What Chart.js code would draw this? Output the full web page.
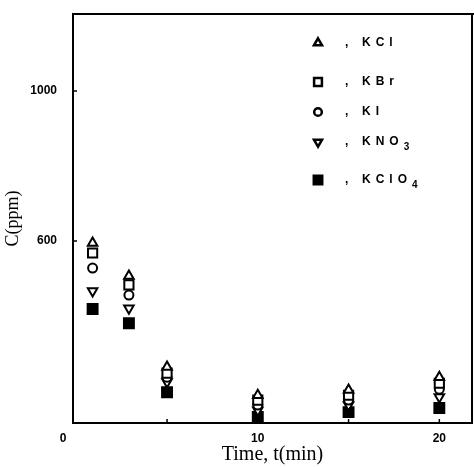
<!DOCTYPE html>
<html>
<head>
<meta charset="utf-8">
<script src="https://cdn.jsdelivr.net/npm/chart.js"></script>
<style>
  html, body { margin: 0; padding: 0; background: #fff; overflow: hidden; }
  #wrap { width: 474px; height: 467px; }
</style>
</head>
<body>
<div id="wrap"><canvas id="chart"></canvas></div>
<script>
// sampling times (min)
const times = [0.9, 2.9, 5, 10, 15, 20];

// concentration C (ppm) for each salt
const kcl   = [595, 507, 264, 189, 203, 237];
const kbr   = [568, 483, 248, 176, 189, 221];
const ki    = [528, 456, 237, 163, 176, 205];
const kno3  = [467, 421, 224, 149, 163, 184];
const kclo4 = [419, 381, 197, 131, 144, 155];

// tick positions
const xTicks = [0, 5, 10, 15, 20];
const xTickLabels = ["", "", "10", "", "20"];
const yTicks = [600, 1000];

// legend entries: label text and subscript
const legendNames = [["KCl", ""], ["KBr", ""], ["KI", ""], ["KNO", "3"], ["KClO", "4"]];

const toPoints = (vals) => vals.map((v, i) => ({ x: times[i], y: v }));

const styles = [
  { pointStyle: "triangle", radius: 5.5, rotation: 0, fill: "#fff" },
  { pointStyle: "rect", radius: 6.5, rotation: 0, fill: "#fff" },
  { pointStyle: "circle", radius: 4.5, rotation: 0, fill: "#fff" },
  { pointStyle: "triangle", radius: 5.5, rotation: 180, fill: "#fff" },
  { pointStyle: "rect", radius: 7, rotation: 0, fill: "#000" },
];

const series = [kcl, kbr, ki, kno3, kclo4];

const datasets = series.map((vals, i) => ({
  label: legendNames[i].join(""),
  data: toPoints(vals),
  showLine: false,
  pointStyle: styles[i].pointStyle,
  pointRadius: styles[i].radius,
  pointRotation: styles[i].rotation,
  pointBackgroundColor: styles[i].fill,
  pointBorderColor: "#000",
  pointBorderWidth: 2,
}));

const tickFont = { family: "'Liberation Sans', Arial, sans-serif", size: 12, weight: "bold" };
const serif = "'Liberation Serif', 'Times New Roman', serif";

// extra drawing: frame, inward ticks, origin label, legend
const extras = {
  id: "extras",
  afterDraw(chart) {
    const { ctx, chartArea: a, scales: { x, y } } = chart;
    ctx.save();
    ctx.strokeStyle = "#000";
    ctx.lineWidth = 2;
    ctx.beginPath();
    ctx.moveTo(a.left, a.top);
    ctx.lineTo(a.right + 2, a.top);
    ctx.moveTo(a.right, a.top);
    ctx.lineTo(a.right, a.bottom);
    ctx.stroke();

    // small inward tick marks
    ctx.lineWidth = 1.5;
    ctx.beginPath();
    for (const t of xTicks) {
      if (t === 0) continue;
      const px = x.getPixelForValue(t);
      ctx.moveTo(px, a.bottom);
      ctx.lineTo(px, a.bottom - 4);
    }
    for (const t of yTicks) {
      const py = y.getPixelForValue(t);
      ctx.moveTo(a.left, py);
      ctx.lineTo(a.left + 4, py);
    }
    ctx.stroke();

    // origin label
    ctx.fillStyle = "#000";
    ctx.font = "bold 12px 'Liberation Sans', Arial, sans-serif";
    ctx.textAlign = "center";
    ctx.textBaseline = "middle";
    ctx.fillText("0", a.left - 10, a.bottom + 16);

    // legend
    const rows = [43, 82, 112, 142, 180];
    const mx = 318;
    chart.data.datasets.forEach((ds, i) => {
      const ry = rows[i];
      ctx.fillStyle = ds.pointBackgroundColor;
      ctx.strokeStyle = "#000";
      ctx.lineWidth = 2.5;
      Chart.helpers.drawPoint(ctx, {
        pointStyle: ds.pointStyle,
        radius: ds.pointRadius * 0.85,
        rotation: ds.pointRotation,
        borderWidth: 2.5,
      }, mx, ry);
      ctx.fillStyle = "#000";
      ctx.font = "bold 12px 'Liberation Sans', Arial, sans-serif";
      ctx.textAlign = "left";
      ctx.textBaseline = "middle";
      ctx.fillText(",", 345, ry);
      let tx = 362;
      for (const ch of legendNames[i][0]) {
        ctx.fillText(ch, tx, ry);
        tx += ctx.measureText(ch).width + 5;
      }
      if (legendNames[i][1]) {
        ctx.font = "bold 10px 'Liberation Sans', Arial, sans-serif";
        ctx.fillText(legendNames[i][1], tx, ry + 5);
      }
    });
    ctx.restore();
  },
};

new Chart(document.getElementById("chart"), {
  type: "scatter",
  data: { datasets },
  options: {
    responsive: true,
    maintainAspectRatio: false,
    animation: false,
    layout: { autoPadding: false, padding: { top: 14, right: 2, left: 0, bottom: 0 } },
    plugins: {
      legend: { display: false },
      tooltip: { enabled: false },
    },
    scales: {
      x: {
        type: "linear",
        min: -0.18,
        max: 21.8,
        afterBuildTicks: (s) => { s.ticks = xTicks.map((v) => ({ value: v })); },
        afterFit: (s) => { s.height = 44; },
        grid: { display: false, drawTicks: false },
        border: { display: true, color: "#000", width: 2 },
        ticks: {
          color: "#000",
          font: tickFont,
          padding: 8,
          maxRotation: 0,
          autoSkip: false,
          callback: (v, i) => xTickLabels[i],
        },
        title: {
          display: true,
          text: "Time, t(min)",
          color: "#000",
          font: { family: serif, size: 20 },
          padding: { top: 0, bottom: 0 },
        },
      },
      y: {
        type: "linear",
        min: 115,
        max: 1205,
        afterBuildTicks: (s) => { s.ticks = yTicks.map((v) => ({ value: v })); },
        afterFit: (s) => { s.width = 73; s.paddingTop = 0; s.paddingBottom = 0; },
        grid: { display: false, drawTicks: false },
        border: { display: true, color: "#000", width: 2 },
        ticks: {
          color: "#000",
          font: tickFont,
          padding: 16,
          autoSkip: false,
          callback: (v) => String(v),
        },
        title: {
          display: true,
          text: "C(ppm)",
          color: "#000",
          font: { family: serif, size: 18 },
          padding: { top: 2, bottom: 0 },
        },
      },
    },
  },
  plugins: [extras],
});
</script>
</body>
</html>
